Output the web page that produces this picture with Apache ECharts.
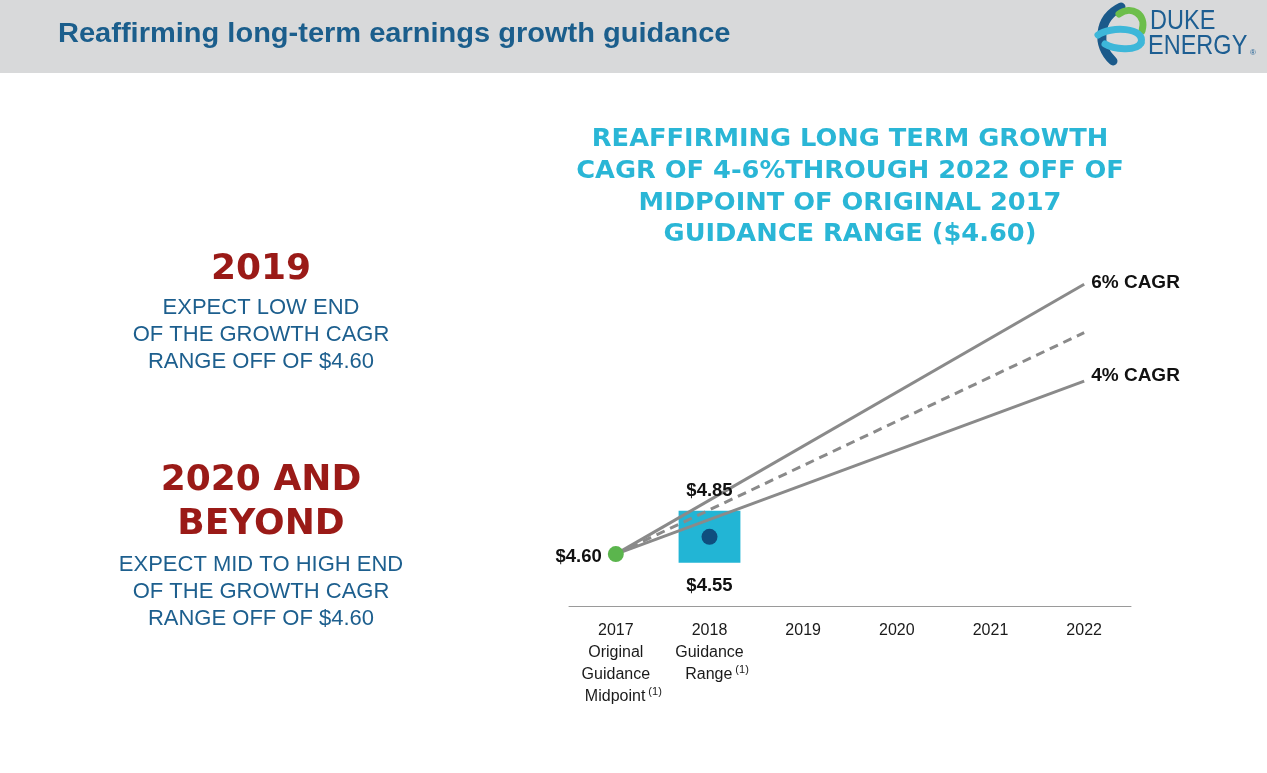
<!DOCTYPE html>
<html>
<head>
<meta charset="utf-8">
<script src="https://cdn.jsdelivr.net/npm/echarts@6/dist/echarts.min.js"></script>
<style>
html,body{margin:0;padding:0;background:#fff;}
#chart{width:1267px;height:773px;}
</style>
</head>
<body>
<div id="chart"></div>
<script>
// ---- data ----
const categories = ['2017', '2018', '2019', '2020', '2021', '2022'];
const categorySubLabels = [['Original', 'Guidance', 'Midpoint'], ['Guidance', 'Range'], [], [], [], []];
const footnote = '(1)';
const startValue = 4.60;          // 2017 original guidance midpoint
const guidanceLow = 4.55;         // 2018 guidance range
const guidanceHigh = 4.85;
const guidanceMid = 4.70;
const cagr6End = 6.16;            // 2022 at 6% CAGR
const cagr5End = 5.88;            // 2022 at midpoint (dashed)
const cagr4End = 5.60;            // 2022 at 4% CAGR
const lineNames = ['6% CAGR', '', '4% CAGR'];
const titleText = 'Reaffirming long-term earnings growth guidance';
const subtitleLines = ['REAFFIRMING LONG TERM GROWTH', 'CAGR OF 4-6%THROUGH 2022 OFF OF', 'MIDPOINT OF ORIGINAL 2017', 'GUIDANCE RANGE ($4.60)'];
const block1Head = ['2019'];
const block1Body = ['EXPECT LOW END', 'OF THE GROWTH CAGR', 'RANGE OFF OF $4.60'];
const block2Head = ['2020 AND', 'BEYOND'];
const block2Body = ['EXPECT MID TO HIGH END', 'OF THE GROWTH CAGR', 'RANGE OFF OF $4.60'];

const SANS = "'Liberation Sans', Arial, sans-serif";
const chart = echarts.init(document.getElementById('chart'), null, {renderer: 'canvas'});

function axisFormatter(value, idx) {
  const subs = categorySubLabels[idx] || [];
  const lines = ['{m|' + value + '}'];
  subs.forEach((s, i) => {
    if (i === subs.length - 1) lines.push('{sp| }{m|' + s + '}{sup|' + footnote + '}');
    else lines.push('{m|' + s + '}');
  });
  return lines.join('\n');
}

function curve(x1, y1, c1x, c1y, c2x, c2y, x2, y2, color, w) {
  return {type: 'bezierCurve', shape: {x1: x1, y1: y1, cpx1: c1x, cpy1: c1y, cpx2: c2x, cpy2: c2y, x2: x2, y2: y2},
          style: {stroke: color, lineWidth: w, fill: null, lineCap: 'round'}, z: 10};
}

const graphics = [
  {type: 'rect', x: 0, y: 0, shape: {x: 0, y: 0, width: 1267, height: 73}, style: {fill: '#d8d9da'}, z: 0},
  {type: 'text', x: 58, y: 35, scaleX: 1.075, style: {text: titleText, fill: '#1b5e8c', font: "bold 27px " + SANS, verticalAlign: 'middle'}, z: 10},
  // logo
  curve(1121, 7, 1098, 18, 1096, 46, 1113, 61, '#1b5a8a', 9),
  curve(1119, 14, 1131, 5, 1147, 14, 1142, 31, '#6dbe4b', 7),
  curve(1098, 35, 1110, 26, 1146, 27, 1141, 43, '#3db7d9', 7),
  curve(1141, 43, 1136, 52, 1113, 49, 1105, 44, '#3db7d9', 7),
  {type: 'text', x: 1150, y: 21, scaleX: 0.84, style: {text: 'DUKE', fill: '#1d5e92', font: "28px " + SANS, verticalAlign: 'middle'}, z: 10},
  {type: 'text', x: 1148, y: 46, scaleX: 0.84, style: {text: 'ENERGY', fill: '#1d5e92', font: "28px " + SANS, verticalAlign: 'middle'}, z: 10},
  {type: 'text', x: 1250, y: 53, style: {text: '®', fill: '#1d5e92', font: "8px " + SANS, verticalAlign: 'middle'}, z: 10}
];

subtitleLines.forEach((t, i) => {
  graphics.push({type: 'text', x: 850, y: 140 + i * 31.7, scaleX: 1.07, style: {text: t, fill: '#2ab6d6', font: "bold 24px 'DejaVu Sans', sans-serif", align: 'center', verticalAlign: 'middle'}});
});
function addBlock(heads, headY, body, bodyY) {
  heads.forEach((t, i) => graphics.push({type: 'text', x: 261, y: headY + i * 44, style: {text: t, fill: '#9a1a17', font: "bold 36px 'DejaVu Sans', sans-serif", align: 'center', verticalAlign: 'middle'}}));
  body.forEach((t, i) => graphics.push({type: 'text', x: 261, y: bodyY + i * 27, style: {text: t, fill: '#1d5f8e', font: "22px " + SANS, align: 'center', verticalAlign: 'middle'}}));
}
addBlock(block1Head, 270, block1Body, 308);
addBlock(block2Head, 481, block2Body, 565);

const lineBase = {
  type: 'line', symbol: 'none', silent: true, animation: false, z: 3,
  lineStyle: {color: '#8a8a8a', width: 3}
};
const endLabelStyle = {show: true, distance: 7, color: '#111111', fontFamily: SANS, fontWeight: 'bold', fontSize: 19};
const valueLabel = {color: '#111111', fontFamily: SANS, fontWeight: 'bold', fontSize: 18.5, opacity: 1};

const option = {
  animation: false,
  graphic: graphics,
  grid: {left: 569, right: 136, top: 260, bottom: 167},
  xAxis: {
    type: 'category', data: categories, boundaryGap: true,
    axisLine: {lineStyle: {color: '#9a9a9a', width: 1}},
    axisTick: {show: false},
    axisLabel: {
      margin: 14, interval: 0, formatter: axisFormatter, color: '#1a1a1a',
      rich: {
        m: {fontFamily: SANS, fontSize: 16, lineHeight: 22, color: '#1a1a1a'},
        sp: {fontFamily: SANS, fontSize: 11, width: 15, lineHeight: 22},
        sup: {fontFamily: SANS, fontSize: 11, lineHeight: 10, verticalAlign: 'top', padding: [0, 0, 0, 3], color: '#1a1a1a'}
      }
    }
  },
  yAxis: {type: 'value', min: 4.3, max: 6.3, show: false, splitLine: {show: false}},
  series: [
    {
      type: 'custom', z: 2, silent: true,
      data: [[1, guidanceLow, guidanceHigh]],
      encode: {x: 0, y: [1, 2]},
      renderItem: function (params, api) {
        const x = api.value(0);
        const topP = api.coord([x, api.value(2)]);
        const botP = api.coord([x, api.value(1)]);
        const w = api.size([1, 0])[0] * 0.66;
        return {type: 'rect', shape: {x: topP[0] - w / 2, y: topP[1], width: w, height: botP[1] - topP[1]}, style: {fill: '#22b5d5'}};
      }
    },
    Object.assign({}, lineBase, {data: [[0, startValue], [5, cagr6End]], endLabel: Object.assign({}, endLabelStyle, {formatter: lineNames[0], offset: [0, -1]})}),
    Object.assign({}, lineBase, {data: [[0, startValue], [5, cagr5End]], lineStyle: {color: '#8a8a8a', width: 3, type: [9, 6]}}),
    Object.assign({}, lineBase, {data: [[0, startValue], [5, cagr4End]], endLabel: Object.assign({}, endLabelStyle, {formatter: lineNames[2], offset: [0, -5]})}),
    {
      type: 'scatter', z: 4, silent: true, symbolSize: 1,
      itemStyle: {color: 'rgba(0,0,0,0)', opacity: 1},
      data: [
        {value: [1, guidanceHigh], label: {show: true, position: 'top', distance: 10}},
        {value: [1, guidanceLow], label: {show: true, position: 'bottom', distance: 13}}
      ],
      label: Object.assign({formatter: p => '$' + p.value[1].toFixed(2)}, valueLabel)
    },
    {
      type: 'scatter', z: 5, silent: true, symbolSize: 16,
      itemStyle: {opacity: 1},
      data: [
        {value: [1, guidanceMid], itemStyle: {color: '#0f4e7e', opacity: 1}},
        {value: [0, startValue], itemStyle: {color: '#5bb54d', opacity: 1},
         label: Object.assign({show: true, position: 'left', distance: 6, offset: [0, 3], formatter: p => '$' + p.value[1].toFixed(2)}, valueLabel)}
      ]
    }
  ]
};
chart.setOption(option);
</script>
</body>
</html>
